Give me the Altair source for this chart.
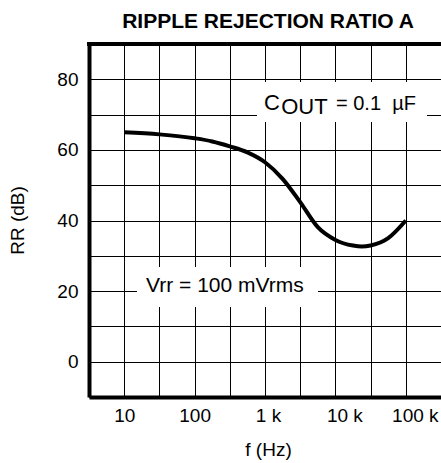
import altair as alt
import pandas as pd

# ---- data ----
freq_hz = [10, 31.6, 100, 178, 316, 562, 1000, 1778, 3162, 5623, 10000, 17783, 23714, 31623, 56234, 100000]
rr_db   = [65, 64.4, 63.3, 62.4, 61.0, 59.3, 56.5, 51.8, 45.2, 38.1, 34.5, 32.9, 32.6, 32.9, 35.0, 40.0]

x_tick_values = [10**0.5, 10, 10**1.5, 100, 10**2.5, 1000, 10**3.5, 10000, 10**4.5, 100000, 10**5.5]
x_tick_labels = {10: "10", 100: "100", 1000: "1 k", 10000: "10 k", 100000: "100 k"}
y_tick_values = list(range(-10, 100, 10))
y_tick_labels = {0: "0", 20: "20", 40: "40", 60: "60", 80: "80"}

box_x  = [770, 15.2]
box_x2 = [200000, 5662]
box_y  = [79.2, 26.8]
box_y2 = [67.9, 15.5]

ann_text = ["C", "OUT", "= 0.1\u00a0\u00a0\u00b5F", "Vrr = 100 mVrms"]
ann_x    = [968, 1700, 10200, 20.4]
ann_y    = [71.3, 70.2, 71.3, 19.7]
ann_size = [22, 22, 20, 21]

W, H = 352, 353
FONT = "Liberation Sans"

curve = pd.DataFrame({"f": freq_hz, "rr": rr_db})
boxes = pd.DataFrame({"f": box_x, "f2": box_x2, "rr": box_y, "rr2": box_y2})
anns = pd.DataFrame({"t": ann_text, "f": ann_x, "rr": ann_y, "s": ann_size})

label_expr = "".join(
    f"datum.value == {k} ? '{v}' : " for k, v in x_tick_labels.items()
) + "''"
y_label_expr = "".join(
    f"datum.value == {k} ? '{v}' : " for k, v in y_tick_labels.items()
) + "''"

xscale = alt.Scale(type="log", domain=[10**0.5, 10**5.5], nice=False)
yscale = alt.Scale(domain=[-10, 90], nice=False, zero=False)

xaxis = alt.Axis(
    values=x_tick_values, labelExpr=label_expr, grid=True, gridColor="black",
    gridOpacity=1, gridWidth=1, ticks=False, domainColor="black", domainWidth=4,
    labelFont=FONT, labelFontSize=19, labelColor="black", labelPadding=9,
    labelFlush=False, labelOverlap=False, labelBound=False,
    labelOffset={"condition": [{"test": "datum.value >= 5000", "value": 9},
                               {"test": "datum.value >= 500", "value": 3}], "value": 0},
    title="f (Hz)", titleFont=FONT, titleFontSize=19, titleFontWeight="normal",
    titleColor="black", titleX=179, titleY=58, titleBaseline="alphabetic",
)
yaxis = alt.Axis(
    values=y_tick_values, labelExpr=y_label_expr, grid=True, gridColor="black",
    gridOpacity=1, gridWidth=1, ticks=False, domainColor="black", domainWidth=4,
    labelFont=FONT, labelFontSize=19, labelColor="black", labelPadding=11,
    labelFlush=False, labelOverlap=False, labelBound=False,
    title="RR (dB)", titleFont=FONT, titleFontSize=19, titleFontWeight="normal",
    titleColor="black", titleX=-72, titleY=176, titleBaseline="middle",
)

X = alt.X("f:Q", scale=xscale, axis=xaxis, title="f (Hz)")
Y = alt.Y("rr:Q", scale=yscale, axis=yaxis, title="RR (dB)")

base_line = alt.Chart(curve).mark_line(color="black", strokeWidth=4, interpolate="monotone").encode(
    x=X, y=Y,
)

rects = alt.Chart(boxes).mark_rect(color="white", opacity=1).encode(
    x=X, x2="f2:Q", y=Y, y2="rr2:Q",
)

texts = alt.Chart(anns).mark_text(
    font=FONT, color="black", align="left", baseline="alphabetic"
).encode(
    x=X, y=Y, text="t:N", size=alt.Size("s:Q", scale=None, legend=None),
)

top_rule = alt.Chart(curve).mark_rule(color="black", strokeWidth=4).encode(
    x=alt.value(-2), x2=alt.value(W + 5), y=alt.value(0)
)

chart = alt.layer(rects, base_line, texts, top_rule).properties(
    width=W, height=H,
    title=alt.TitleParams(
        "RIPPLE REJECTION RATIO A", font=FONT, fontSize=21, fontWeight="bold",
        color="black", anchor="middle", offset=3, dx=3,
    ),
    padding={"left": 89, "top": 44, "right": 0, "bottom": 66},
    autosize=alt.AutoSizeParams(type="none"),
).configure_view(stroke=None)

chart.save("out.html", embed_options={"renderer": "svg", "actions": False})
